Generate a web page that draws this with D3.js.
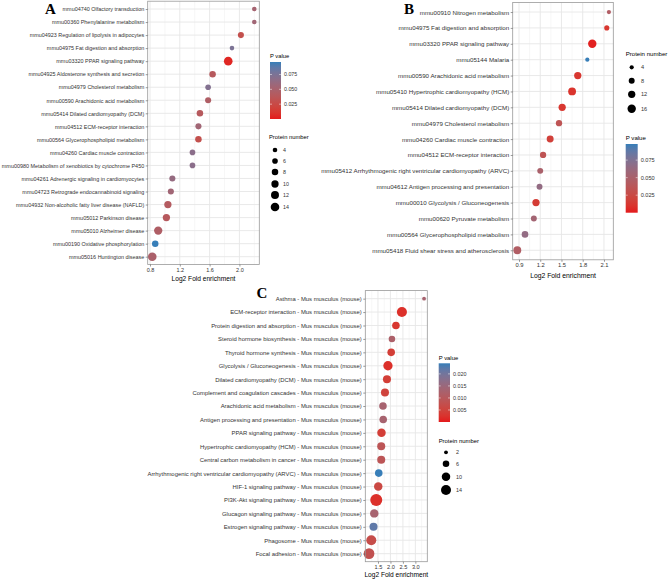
<!DOCTYPE html>
<html><head><meta charset="utf-8">
<script src="https://cdn.jsdelivr.net/npm/d3@7"></script>
<style>body{margin:0;background:#fff}svg{display:block}</style>
</head><body><svg id="c" width="670" height="581"></svg>
<script>
// ---------- Panel A ----------
const aTerms = [
 "mmu04740 Olfactory transduction","mmu00360 Phenylalanine metabolism","mmu04923 Regulation of lipolysis in adipocytes",
 "mmu04975 Fat digestion and absorption","mmu03320 PPAR signaling pathway","mmu04925 Aldosterone synthesis and secretion",
 "mmu04979 Cholesterol metabolism","mmu00590 Arachidonic acid metabolism","mmu05414 Dilated cardiomyopathy (DCM)",
 "mmu04512 ECM-receptor interaction","mmu00564 Glycerophospholipid metabolism","mmu04260 Cardiac muscle contraction",
 "mmu00980 Metabolism of xenobiotics by cytochrome P450","mmu04261 Adrenergic signaling in cardiomyocytes",
 "mmu04723 Retrograde endocannabinoid signaling","mmu04932 Non-alcoholic fatty liver disease (NAFLD)",
 "mmu05012 Parkinson disease","mmu05010 Alzheimer disease","mmu00190 Oxidative phosphorylation","mmu05016 Huntington disease"];
const aFold  = [2.20,2.20,2.02,1.90,1.85,1.64,1.58,1.58,1.47,1.45,1.45,1.37,1.37,1.10,1.08,1.04,1.02,0.91,0.87,0.83];
const aPval  = [0.052,0.055,0.030,0.075,0.004,0.040,0.072,0.045,0.040,0.055,0.030,0.068,0.068,0.062,0.055,0.042,0.040,0.045,0.096,0.048];
const aCount = [4,4,7,4,14,8,6,7,8,7,8,6,6,7,7,10,10,13,8,14];
const aTicks = [0.8,1.2,1.6,2.0];
const aPTicks = [0.025,0.050,0.075];
const aSizeTicks = [4,6,8,10,12,14];

// ---------- Panel B ----------
const bTerms = [
 "mmu00910 Nitrogen metabolism","mmu04975 Fat digestion and absorption","mmu03320 PPAR signaling pathway","mmu05144 Malaria",
 "mmu00590 Arachidonic acid metabolism","mmu05410 Hypertrophic cardiomyopathy (HCM)","mmu05414 Dilated cardiomyopathy (DCM)",
 "mmu04979 Cholesterol metabolism","mmu04260 Cardiac muscle contraction","mmu04512 ECM-receptor interaction",
 "mmu05412 Arrhythmogenic right ventricular cardiomyopathy (ARVC)","mmu04612 Antigen processing and presentation",
 "mmu00010 Glycolysis / Gluconeogenesis","mmu00620 Pyruvate metabolism","mmu00564 Glycerophospholipid metabolism",
 "mmu05418 Fluid shear stress and atherosclerosis"];
const bFold  = [2.17,2.14,1.935,1.865,1.73,1.65,1.51,1.465,1.34,1.24,1.20,1.19,1.14,1.11,0.985,0.876];
const bPval  = [0.045,0.012,0.002,0.098,0.012,0.010,0.012,0.035,0.018,0.035,0.050,0.065,0.015,0.055,0.065,0.045];
const bCount = [4,6,16,4,12,14,12,9,11,9,8,8,12,8,10,14];
const bTicks = [0.9,1.2,1.5,1.8,2.1];
const bPTicks = [0.025,0.050,0.075];
const bSizeTicks = [4,8,12,16];

// ---------- Panel C ----------
const cTerms = [
 "Asthma - Mus musculus (mouse)","ECM-receptor interaction - Mus musculus (mouse)","Protein digestion and absorption - Mus musculus (mouse)",
 "Steroid hormone biosynthesis - Mus musculus (mouse)","Thyroid hormone synthesis - Mus musculus (mouse)",
 "Glycolysis / Gluconeogenesis - Mus musculus (mouse)","Dilated cardiomyopathy (DCM) - Mus musculus (mouse)",
 "Complement and coagulation cascades - Mus musculus (mouse)","Arachidonic acid metabolism - Mus musculus (mouse)",
 "Antigen processing and presentation - Mus musculus (mouse)","PPAR signaling pathway - Mus musculus (mouse)",
 "Hypertrophic cardiomyopathy (HCM) - Mus musculus (mouse)","Central carbon metabolism in cancer - Mus musculus (mouse)",
 "Arrhythmogenic right ventricular cardiomyopathy (ARVC) - Mus musculus (mouse)","HIF-1 signaling pathway - Mus musculus (mouse)",
 "PI3K-Akt signaling pathway - Mus musculus (mouse)","Glucagon signaling pathway - Mus musculus (mouse)",
 "Estrogen signaling pathway - Mus musculus (mouse)","Phagosome - Mus musculus (mouse)","Focal adhesion - Mus musculus (mouse)"];
const cFold  = [3.35,2.46,2.22,2.06,2.03,1.90,1.86,1.78,1.70,1.71,1.64,1.63,1.63,1.53,1.51,1.43,1.35,1.32,1.23,1.14];
const cPval  = [0.013,0.002,0.003,0.012,0.004,0.002,0.004,0.005,0.013,0.013,0.004,0.009,0.009,0.0244,0.006,0.002,0.013,0.022,0.007,0.008];
const cCount = [2,14,8,6,8,12,9,9,8,8,10,9,9,8,10,20,10,9,14,16];
const cTicks = [1.5,2.0,2.5,3.0];
const cPTicks = [0.005,0.010,0.015,0.020];
const cSizeTicks = [2,6,10,14];

const LOW = "#E41A1C", HIGH = "#377EB8";
const FONT = "'Liberation Sans', Arial, Helvetica, sans-serif";
const svg = d3.select("#c");
let gradId = 0;

function panel(o){
  const g = svg.append("g");
  const x = d3.scaleLinear().domain(o.xd).range([o.x0, o.x1]);
  const y = d3.scalePoint().domain(o.terms).range([o.y0, o.y1]).padding(0.6);
  const col = d3.scaleLinear().domain(o.pd).range([LOW, HIGH]).interpolate(d3.interpolateLab);
  const r = d3.scaleSqrt().domain([0, 1]).range([0, o.rk]);

  g.append("rect").attr("x",o.x0).attr("y",o.y0).attr("width",o.x1-o.x0).attr("height",o.y1-o.y0).attr("fill","#fff");
  g.selectAll(".mn").data(o.minor).join("line")
    .attr("x1",d=>x(d)).attr("x2",d=>x(d)).attr("y1",o.y0).attr("y2",o.y1)
    .attr("stroke","#EFEFEF").attr("stroke-width",0.5);
  g.selectAll(".mj").data(o.ticks).join("line")
    .attr("x1",d=>x(d)).attr("x2",d=>x(d)).attr("y1",o.y0).attr("y2",o.y1)
    .attr("stroke","#E6E6E6").attr("stroke-width",0.9);
  g.selectAll(".hz").data(o.terms).join("line")
    .attr("x1",o.x0).attr("x2",o.x1).attr("y1",d=>y(d)).attr("y2",d=>y(d))
    .attr("stroke","#E6E6E6").attr("stroke-width",0.9);

  const data = o.terms.map((t,i)=>({t, f:o.fold[i], p:o.pval[i], n:o.count[i]}));
  g.selectAll("circle.pt").data(data).join("circle")
    .attr("cx",d=>x(d.f)).attr("cy",d=>y(d.t)).attr("r",d=>r(d.n))
    .attr("fill",d=>col(d.p));

  g.append("rect").attr("x",o.x0).attr("y",o.y0).attr("width",o.x1-o.x0).attr("height",o.y1-o.y0)
    .attr("fill","none").attr("stroke","#999").attr("stroke-width",0.8);

  const ya = g.append("g").attr("transform",`translate(${o.x0},0)`)
    .call(d3.axisLeft(y).tickSize(2).tickPadding(1.5));
  ya.select(".domain").remove();
  ya.selectAll("line").attr("stroke","#555").attr("stroke-width",0.6);
  ya.selectAll("text").attr("font-family",FONT).attr("font-size",o.fs).attr("fill","#333");

  const xa = g.append("g").attr("transform",`translate(0,${o.y1})`)
    .call(d3.axisBottom(x).tickValues(o.ticks).tickFormat(d3.format(".1f")).tickSize(2).tickPadding(1.5));
  xa.select(".domain").remove();
  xa.selectAll("line").attr("stroke","#555").attr("stroke-width",0.6);
  xa.selectAll("text").attr("font-family",FONT).attr("font-size",o.tfs).attr("fill","#333");

  g.append("text").attr("x",(o.x0+o.x1)/2).attr("y",o.titleY).attr("text-anchor","middle")
    .attr("font-family",FONT).attr("font-size",o.titleFs).attr("fill","#000").text("Log2 Fold enrichment");

  g.append("text").attr("x",o.letterX).attr("y",o.letterY).attr("font-family","'Liberation Serif', 'Times New Roman', serif")
    .attr("font-weight","bold").attr("font-size",15).attr("fill","#000").text(o.letter);

  const cb = o.cbar;
  const id = "grad"+(gradId++);
  const grad = svg.append("defs").append("linearGradient").attr("id",id)
    .attr("x1",0).attr("y1",1).attr("x2",0).attr("y2",0);
  d3.range(0,1.0001,0.1).forEach(t=>{
    grad.append("stop").attr("offset",t).attr("stop-color",col(o.pd[0]+t*(o.pd[1]-o.pd[0])));
  });
  g.append("text").attr("x",cb.x).attr("y",cb.titleY).attr("font-family",FONT).attr("font-size",o.lfs+0.5)
    .attr("fill","#000").text("P value");
  g.append("rect").attr("x",cb.x).attr("y",cb.y0).attr("width",cb.w).attr("height",cb.y1-cb.y0).attr("fill",`url(#${id})`);
  const cy = d3.scaleLinear().domain(o.pd).range([cb.y1, cb.y0]);
  g.selectAll(".cbt").data(o.pticks).join("line")
    .attr("x1",cb.x).attr("x2",cb.x+2).attr("y1",d=>cy(d)).attr("y2",d=>cy(d)).attr("stroke","#fff").attr("stroke-width",0.5);
  g.selectAll(".cbt2").data(o.pticks).join("line")
    .attr("x1",cb.x+cb.w-2).attr("x2",cb.x+cb.w).attr("y1",d=>cy(d)).attr("y2",d=>cy(d)).attr("stroke","#fff").attr("stroke-width",0.5);
  g.selectAll(".cbl").data(o.pticks).join("text")
    .attr("x",cb.x+cb.w+3).attr("y",d=>cy(d)).attr("dy","0.35em")
    .attr("font-family",FONT).attr("font-size",o.lfs).attr("fill","#333").text(d3.format(".3f"));

  const sl = o.sleg;
  g.append("text").attr("x",sl.x).attr("y",sl.titleY).attr("font-family",FONT).attr("font-size",o.lfs+0.5)
    .attr("fill","#000").text("Protein number");
  o.sticks.forEach((v,i)=>{
    const yy = sl.ys[i];
    g.append("circle").attr("cx",sl.cx).attr("cy",yy).attr("r",r(v)).attr("fill","#000");
    g.append("text").attr("x",sl.lx).attr("y",yy).attr("dy","0.35em").attr("font-family",FONT)
      .attr("font-size",o.lfs).attr("fill","#333").text(v);
  });
}

panel({terms:aTerms, fold:aFold, pval:aPval, count:aCount,
  x0:147.7, x1:259.3, y0:1.2, y1:264.5, xd:[0.769,2.267], ticks:aTicks, minor:[1.0,1.4,1.8,2.2],
  pd:[0,0.096], pticks:aPTicks, sticks:aSizeTicks, rk:1.15,
  fs:5.45, tfs:5.5, titleFs:6.6, titleY:281, lfs:5.3, letter:"A", letterX:45, letterY:14,
  cbar:{x:270, w:11, y0:62, y1:119, titleY:58},
  sleg:{x:269, titleY:139, cx:275, lx:283, ys:[150,161,172,184,195,207]}});

panel({terms:bTerms, fold:bFold, pval:bPval, count:bCount,
  x0:512.7, x1:613.3, y0:2.5, y1:259.8, xd:[0.811,2.232], ticks:bTicks, minor:[1.05,1.35,1.65,1.95],
  pd:[0,0.098], pticks:bPTicks, sticks:bSizeTicks, rk:1.05,
  fs:6.2, tfs:5.8, titleFs:6.8, titleY:278, lfs:5.6, letter:"B", letterX:404, letterY:14,
  cbar:{x:625.7, w:12, y0:144, y1:212.7, titleY:139.5},
  sleg:{x:625.7, titleY:55.5, cx:631.7, lx:641, ys:[67.3,80.7,94.3,108.7]}});

panel({terms:cTerms, fold:cFold, pval:cPval, count:cCount,
  x0:365.3, x1:427.3, y0:290.6, y1:561.7, xd:[0.99,3.48], ticks:cTicks, minor:[1.25,1.75,2.25,2.75,3.25],
  pd:[0,0.0244], pticks:cPTicks, sticks:cSizeTicks, rk:1.34,
  fs:5.9, tfs:5.6, titleFs:6.6, titleY:577, lfs:5.4, letter:"C", letterX:256.5, letterY:298,
  cbar:{x:438.7, w:11.3, y0:363.3, y1:422, titleY:359.5},
  sleg:{x:438.7, titleY:443, cx:446, lx:456, ys:[452.3,463.7,476.7,490]}});
</script></body></html>
